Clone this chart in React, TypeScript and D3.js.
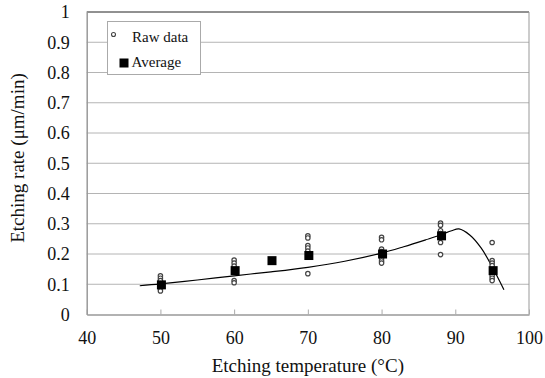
import { useEffect, useRef } from 'react';
import * as d3 from 'd3';

// Raw measurements (temperature °C, rate µm/min)
const rawTemps = [50, 50, 50, 50, 50, 60, 60, 60, 60, 60, 65, 70, 70, 70, 70, 70, 70, 80, 80, 80, 80, 80, 80, 80, 88, 88, 88, 88, 88, 88, 95, 95, 95, 95, 95, 95, 95];
const rawRates = [0.128, 0.12, 0.112, 0.085, 0.078, 0.18, 0.17, 0.16, 0.112, 0.105, 0.18, 0.26, 0.253, 0.228, 0.22, 0.21, 0.135, 0.255, 0.247, 0.216, 0.208, 0.185, 0.177, 0.17, 0.302, 0.295, 0.277, 0.268, 0.238, 0.198, 0.238, 0.178, 0.17, 0.162, 0.128, 0.12, 0.112];

// Averages
const avgTemps = [50, 60, 65, 70, 80, 88, 95];
const avgRates = [0.098, 0.145, 0.178, 0.195, 0.2, 0.26, 0.145];

// Fitted curve
const fitTemps = [47.2, 50, 55, 60, 65, 70, 75, 80, 83, 86, 88, 89.5, 90.5, 92, 93.5, 95, 96.6];
const fitRates = [0.095, 0.101, 0.114, 0.128, 0.141, 0.156, 0.176, 0.203, 0.224, 0.247, 0.263, 0.277, 0.283, 0.262, 0.22, 0.158, 0.082];

const xTicks = [40, 50, 60, 70, 80, 90, 100];
const yTicks = [0, 0.1, 0.2, 0.3, 0.4, 0.5, 0.6, 0.7, 0.8, 0.9, 1];

export default function App() {
    const svgRef = useRef<SVGSVGElement>(null);
    const width = 545;
    const height = 378;

    useEffect(() => {
        const svg = d3.select(svgRef.current);
        svg.selectAll("*").remove();

        const margin = { top: 12, right: 16, bottom: 63.5, left: 86.7 };
        const w = width - margin.left - margin.right;
        const h = height - margin.top - margin.bottom;
        const font = "'Liberation Serif', 'Times New Roman', serif";

        const g = svg.append("g").attr("transform", `translate(${margin.left},${margin.top})`);

        const x = d3.scaleLinear().domain([40, 100]).range([0, w]);
        const y = d3.scaleLinear().domain([0, 1]).range([h, 0]);

        // Gridlines
        g.selectAll(".grid")
            .data(yTicks.filter(t => t > 0 && t < 1))
            .enter().append("line")
            .attr("x1", 0).attr("x2", w)
            .attr("y1", d => y(d)).attr("y2", d => y(d))
            .attr("stroke", "#b4b4b4").attr("stroke-width", 1);

        // Plot frame
        g.append("line").attr("x1", 0).attr("x2", w).attr("y1", y(1)).attr("y2", y(1))
            .attr("stroke", "#222").attr("stroke-width", 1);
        g.append("line").attr("x1", w).attr("x2", w).attr("y1", 0).attr("y2", h)
            .attr("stroke", "#999").attr("stroke-width", 1);

        // X axis
        const xAxis = g.append("g")
            .attr("transform", `translate(0,${h})`)
            .call(d3.axisBottom(x).tickValues(xTicks).tickSizeInner(-5).tickSizeOuter(0).tickPadding(17));
        xAxis.select(".domain").attr("stroke", "#999").attr("stroke-width", 1.5);
        xAxis.selectAll("line").attr("stroke", "#aaa");
        xAxis.selectAll("text")
            .style("font-family", font).style("font-size", "18px").attr("fill", "#111");

        // Y axis
        const yAxis = g.append("g")
            .call(d3.axisLeft(y).tickValues(yTicks).tickSize(0).tickPadding(17).tickFormat(d => `${+d}`));
        yAxis.select(".domain").attr("stroke", "#999").attr("stroke-width", 1.5);
        yAxis.selectAll("text")
            .style("font-family", font).style("font-size", "18px").attr("fill", "#111");

        // Fitted curve
        const line = d3.line<number>()
            .x((_, i) => x(fitTemps[i]))
            .y(d => y(d))
            .curve(d3.curveCatmullRom);
        g.append("path")
            .datum(fitRates)
            .attr("fill", "none")
            .attr("stroke", "#000")
            .attr("stroke-width", 1.2)
            .attr("d", line);

        // Raw data
        g.selectAll(".raw")
            .data(rawRates)
            .enter().append("circle")
            .attr("cx", (_, i) => x(rawTemps[i]))
            .attr("cy", d => y(d))
            .attr("r", 2.2)
            .attr("fill", "#fff")
            .attr("stroke", "#444")
            .attr("stroke-width", 1.2);

        // Averages
        const s = 9;
        g.selectAll(".avg")
            .data(avgRates)
            .enter().append("rect")
            .attr("x", (_, i) => x(avgTemps[i]) - s / 2 + 1)
            .attr("y", d => y(d) - s / 2)
            .attr("width", s).attr("height", s)
            .attr("fill", "#000");

        // Legend
        const lg = svg.append("g").attr("transform", "translate(107.5,21.5)");
        lg.append("rect").attr("width", 93).attr("height", 53)
            .attr("fill", "#fff").attr("stroke", "#aaa").attr("stroke-width", 1);
        lg.append("circle").attr("cx", 6).attr("cy", 13).attr("r", 2)
            .attr("fill", "#fff").attr("stroke", "#444").attr("stroke-width", 1.1);
        lg.append("text").attr("x", 24.5).attr("y", 20)
            .style("font-family", font).style("font-size", "15px").attr("fill", "#111").text("Raw data");
        lg.append("rect").attr("x", 12).attr("y", 37).attr("width", 9).attr("height", 9).attr("fill", "#000");
        lg.append("text").attr("x", 24).attr("y", 45.5)
            .style("font-family", font).style("font-size", "15px").attr("fill", "#111").text("Average");

        // Axis titles
        svg.append("text")
            .attr("x", margin.left + w / 2).attr("y", 371.5)
            .attr("text-anchor", "middle")
            .style("font-family", font).style("font-size", "19px").attr("fill", "#111")
            .text("Etching temperature (°C)");
        svg.append("text")
            .attr("transform", `translate(24,158) rotate(-90)`)
            .attr("text-anchor", "middle")
            .style("font-family", font).style("font-size", "19px").attr("fill", "#111")
            .text("Etching rate (μm/min)");
    }, []);

    return <svg ref={svgRef} width={width} height={height} style={{ position: "absolute", left: 0, top: 0, background: "#fff" }}></svg>;
}
